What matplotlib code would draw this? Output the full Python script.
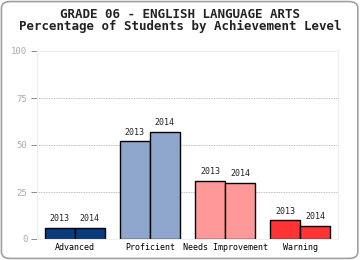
import numpy as np
import matplotlib
matplotlib.use("Agg")
import matplotlib.pyplot as plt
from matplotlib.patches import FancyBboxPatch

categories = ["Advanced", "Proficient", "Needs Improvement", "Warning"]
years = ["2013", "2014"]
values_2013 = [6, 52, 31, 10]
values_2014 = [6, 57, 30, 7]
colors = ["#0a3c7d", "#8fa6cd", "#ff9999", "#ff3333"]

plt.rcParams['font.family'] = ['DejaVu Sans Mono']

fig = plt.figure(figsize=(3.6, 2.6), dpi=100)
fig.patches.append(FancyBboxPatch((0.004, 0.006), 0.99, 0.988,
                                  boxstyle="round,pad=0,rounding_size=0.025",
                                  transform=fig.transFigure, fc="none",
                                  ec="#a0a0a0", lw=1.2, zorder=5))
ax = fig.add_axes([37 / 360, 1 - 239 / 260, 301 / 360, 188 / 260])
ax.set_facecolor("none")

x = np.arange(len(categories))
w = 0.4
b1 = ax.bar(x - w / 2, values_2013, w, color=colors, edgecolor="black", lw=1, zorder=2)
b2 = ax.bar(x + w / 2, values_2014, w, color=colors, edgecolor="black", lw=1, zorder=2)
for bars, yr in ((b1, years[0]), (b2, years[1])):
    for r in bars:
        ax.text(r.get_x() + r.get_width() / 2, r.get_height() + 2.5, yr,
                ha="center", va="bottom", fontsize=6, color="#222222")

ax.set_xlim(-0.5, 3.5)
ax.set_ylim(0, 100)
ax.set_yticks([0, 25, 50, 75, 100])
ax.tick_params(axis="y", labelsize=6.5, labelcolor="#aaaaaa", color="#777777",
               length=4, width=0.6, pad=3)
ax.set_xticks(x)
ax.set_xticklabels(categories, fontsize=6)
ax.tick_params(axis="x", length=0, pad=3)
for v in (25, 50, 75):
    ax.axhline(v, color="#aaaaaa", lw=0.6, ls=(0, (1, 1)), zorder=0)
for s in ax.spines.values():
    s.set_color("#eeeeee")
    s.set_linewidth(0.8)

fig.text(0.5, 1 - 14 / 260, "GRADE 06 - ENGLISH LANGUAGE ARTS", ha="center",
         va="center", fontsize=9, fontweight="bold", color="#222222")
fig.text(0.5, 1 - 26 / 260, "Percentage of Students by Achievement Level",
         ha="center", va="center", fontsize=9, fontweight="bold", color="#222222")

fig.savefig("out.png", dpi=100)
